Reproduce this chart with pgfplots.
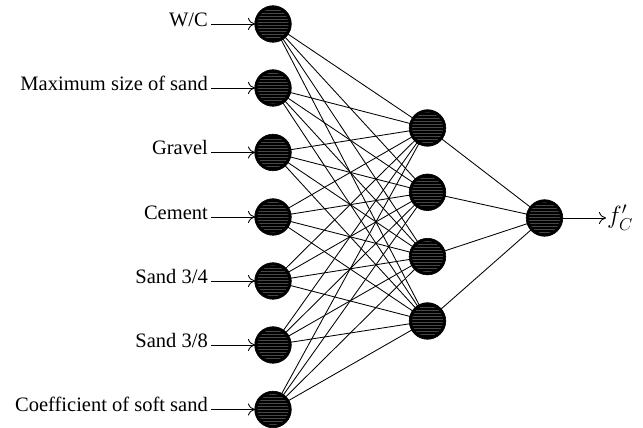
\documentclass[border=0pt]{standalone}
\usepackage{pgfplots}
\pgfplotsset{compat=1.18}
\usepackage{fontspec}
\setmainfont{Liberation Serif}
\usetikzlibrary{patterns,arrows.meta}
\tikzset{lbl/.style={font=\fontsize{20.5}{24}\selectfont, inner sep=0pt},
  arr/.style={-{Computer Modern Rightarrow[length=7pt,width=12pt,line width=0.85pt]}}}
\begin{document}
\begin{tikzpicture}
\begin{axis}[
  x=1pt, y=1pt, xmin=0, xmax=643, ymin=0, ymax=428,
  scale only axis, axis line style={draw=none}, ticks=none, clip=false,
  every axis plot/.append style={line width=0.85pt, line join=round},
]
% connections through hidden neuron 1
\addplot[black, no markers] coordinates {(273,404) (427.5,300) (273,340) (427.5,300) (273,275.5) (427.5,300) (273,211) (427.5,300) (273,147) (427.5,300) (273,83) (427.5,300) (273,18.5) (427.5,300) (544.5,210)};
% hidden neuron 2
\addplot[black, no markers] coordinates {(273,404) (427.5,235.7) (273,340) (427.5,235.7) (273,275.5) (427.5,235.7) (273,211) (427.5,235.7) (273,147) (427.5,235.7) (273,83) (427.5,235.7) (273,18.5) (427.5,235.7) (544.5,210)};
% hidden neuron 3
\addplot[black, no markers] coordinates {(273,404) (427.5,171.4) (273,340) (427.5,171.4) (273,275.5) (427.5,171.4) (273,211) (427.5,171.4) (273,147) (427.5,171.4) (273,83) (427.5,171.4) (273,18.5) (427.5,171.4) (544.5,210)};
% hidden neuron 4
\addplot[black, no markers] coordinates {(273,404) (427.5,107) (273,340) (427.5,107) (273,275.5) (427.5,107) (273,211) (427.5,107) (273,147) (427.5,107) (273,83) (427.5,107) (273,18.5) (427.5,107) (544.5,210)};
% input arrows
\addplot[black, no markers, arr] coordinates {(211,404) (255,404)};
\addplot[black, no markers, arr] coordinates {(211,340) (255,340)};
\addplot[black, no markers, arr] coordinates {(211,275.5) (255,275.5)};
\addplot[black, no markers, arr] coordinates {(211,211) (255,211)};
\addplot[black, no markers, arr] coordinates {(211,147) (255,147)};
\addplot[black, no markers, arr] coordinates {(211,83) (255,83)};
\addplot[black, no markers, arr] coordinates {(211,18.5) (255,18.5)};
% output arrow
\addplot[black, no markers, arr] coordinates {(563,210) (606,210)};
% neurons
\addplot[only marks, mark=*, mark size=18.3pt, mark options={fill=black, draw=black, line width=0.6pt}] coordinates {
(273,404) (273,340) (273,275.5) (273,211) (273,147) (273,83) (273,18.5)
(427.5,300) (427.5,235.7) (427.5,171.4) (427.5,107)
(544.5,210)};
\addplot[only marks, mark=*, mark size=16pt, mark options={draw=none, pattern=horizontal lines, pattern color=black!72}] coordinates {
(273,404) (273,340) (273,275.5) (273,211) (273,147) (273,83) (273,18.5)
(427.5,300) (427.5,235.7) (427.5,171.4) (427.5,107)
(544.5,210)};
% labels
\node[lbl, anchor=mid east] at (axis cs:208,404) {W/C};
\node[lbl, anchor=mid east] at (axis cs:208,340) {Maximum size of sand};
\node[lbl, anchor=mid east] at (axis cs:208,275.5) {Gravel};
\node[lbl, anchor=mid east] at (axis cs:208,211) {Cement};
\node[lbl, anchor=mid east] at (axis cs:208,147) {Sand 3/4};
\node[lbl, anchor=mid east] at (axis cs:208,83) {Sand 3/8};
\node[lbl, anchor=mid east] at (axis cs:208,18.5) {Coefficient of soft sand};
\node[lbl, anchor=base west, font=\fontsize{23}{26}\selectfont] at (axis cs:607,204) {$f'_C$};
\end{axis}
\end{tikzpicture}
\end{document}
